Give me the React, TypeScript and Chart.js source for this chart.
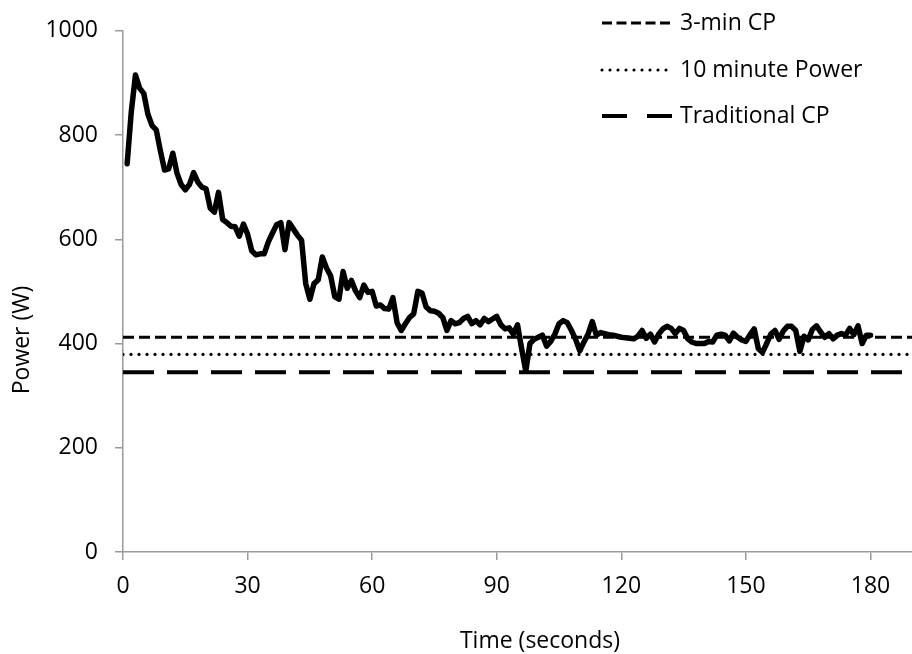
import React, { useEffect, useRef } from "react";
import { Chart, registerables } from "chart.js";

Chart.register(...registerables);

// Power (W) per second, t = 1..180 s
const powerWatts: number[] = [
  745, 845, 915, 890, 880, 840, 818, 810, 770, 733,
  735, 765, 727, 705, 695, 705, 728, 710, 700, 697,
  660, 652, 690, 638, 632, 625, 624, 606, 629, 610,
  578, 570, 572, 572, 595, 612, 628, 632, 580, 632,
  620, 608, 598, 515, 485, 515, 522, 566, 545, 530,
  490, 485, 538, 506, 521, 501, 488, 512, 498, 500,
  472, 474, 467, 466, 488, 440, 425, 438, 450, 457,
  500, 497, 470, 463, 462, 458, 450, 425, 444, 438,
  440, 448, 452, 438, 444, 436, 448, 442, 447, 452,
  436, 428, 430, 418, 436, 390, 347, 400, 408, 412,
  416, 395, 404, 418, 438, 444, 440, 425, 408, 386,
  403, 418, 442, 416, 421, 419, 417, 416, 414, 412,
  411, 410, 409, 414, 425, 410, 418, 403, 418, 428,
  433, 429, 419, 429, 425, 409, 403, 400, 400, 400,
  404, 403, 416, 418, 416, 405, 420, 412, 407, 404,
  417, 428, 390, 383, 400, 418, 425, 408, 424, 433,
  433, 425, 385, 414, 407, 427, 434, 422, 412, 419,
  409, 416, 419, 416, 429, 417, 434, 400, 416, 416,
];

const referenceLabels: string[] = ["3-min CP", "10 minute Power", "Traditional CP"];
const referenceValues: number[] = [412, 379, 345];

const xTickValues: number[] = [0, 30, 60, 90, 120, 150, 180];
const yTickValues: number[] = [0, 200, 400, 600, 800, 1000];

const xAxisMin = 0;
const xAxisMax = 190;

const FONT = "'Open Sans', sans-serif";
const AXIS_COLOR = "#9a9a9a";

const refStyles = [
  { dash: [11, 5], legendDash: [10, 4.5], width: 3, cap: "butt" as CanvasLineCap },
  { dash: [0, 8], legendDash: [0, 8], width: 3.2, cap: "round" as CanvasLineCap },
  { dash: [31, 13], legendDash: [25, 20], width: 4, cap: "butt" as CanvasLineCap },
];

const overlayPlugin = {
  id: "overlayTexts",
  afterDraw(chart: any) {
    const ctx: CanvasRenderingContext2D = chart.ctx;
    ctx.save();
    ctx.fillStyle = "#000";
    ctx.font = `23px ${FONT}`;
    // axis titles
    ctx.textAlign = "center";
    ctx.textBaseline = "middle";
    ctx.fillText("Time (seconds)", 540, 641);
    ctx.save();
    ctx.translate(22, 340);
    ctx.rotate(-Math.PI / 2);
    ctx.fillText("Power (W)", 0, 0);
    ctx.restore();
    // legend
    const rowsY = [23, 70, 116];
    referenceLabels.forEach((label, i) => {
      const st = refStyles[i];
      const y = rowsY[i];
      ctx.save();
      ctx.strokeStyle = "#000";
      ctx.lineWidth = st.width;
      ctx.lineCap = st.cap;
      ctx.setLineDash(st.legendDash);
      ctx.beginPath();
      ctx.moveTo(602, y);
      ctx.lineTo(672, y);
      ctx.stroke();
      ctx.restore();
      ctx.textAlign = "left";
      ctx.textBaseline = "middle";
      ctx.fillText(label, 680, y);
    });
    ctx.restore();
  },
};

export default function App() {
  const canvasRef = useRef<HTMLCanvasElement | null>(null);

  useEffect(() => {
    document.body.style.margin = "0";
    const canvas = canvasRef.current;
    if (!canvas) return;

    const mainData = powerWatts.map((v, i) => ({ x: i + 1, y: v }));
    const refDatasets = referenceValues.map((v, i) => ({
      label: referenceLabels[i],
      data: [
        { x: xAxisMin, y: v },
        { x: xAxisMax, y: v },
      ],
      borderColor: "#000",
      borderWidth: refStyles[i].width,
      borderDash: refStyles[i].dash,
      borderCapStyle: refStyles[i].cap,
      pointRadius: 0,
      fill: false,
    }));

    const chart = new Chart(canvas, {
      type: "line",
      data: {
        datasets: [
          {
            label: "Power",
            data: mainData,
            borderColor: "#000",
            borderWidth: 5.5,
            borderJoinStyle: "round",
            borderCapStyle: "round",
            pointRadius: 0,
            tension: 0,
            fill: false,
          },
          ...refDatasets,
        ] as any,
      },
      options: {
        responsive: false,
        animation: false,
        devicePixelRatio: 1,
        layout: { padding: { top: 25, right: 0, bottom: 0, left: 0 } },
        plugins: {
          legend: { display: false },
          tooltip: { enabled: false },
          title: { display: false },
        },
        scales: {
          x: {
            type: "linear",
            min: xAxisMin,
            max: xAxisMax,
            afterBuildTicks: (scale: any) => {
              scale.ticks = xTickValues.map((v) => ({ value: v }));
            },
            afterFit: (scale: any) => {
              scale.height = 102;
            },
            grid: {
              drawOnChartArea: false,
              drawTicks: true,
              tickLength: 8,
              color: AXIS_COLOR,
              lineWidth: 1.5,
            },
            border: { display: true, color: AXIS_COLOR, width: 1.5 },
            ticks: {
              padding: 13,
              color: "#000",
              font: { family: FONT, size: 23 },
              maxRotation: 0,
              callback: (v: any) => String(v),
            },
          },
          y: {
            type: "linear",
            min: 0,
            max: 1000,
            afterBuildTicks: (scale: any) => {
              scale.ticks = yTickValues.map((v) => ({ value: v }));
            },
            afterFit: (scale: any) => {
              scale.width = 123;
            },
            grid: {
              drawOnChartArea: false,
              drawTicks: true,
              tickLength: 8,
              color: AXIS_COLOR,
              lineWidth: 1.5,
            },
            border: { display: true, color: AXIS_COLOR, width: 1.5 },
            ticks: {
              padding: 17,
              color: "#000",
              font: { family: FONT, size: 23 },
              callback: (v: any) => String(v),
            },
          },
        },
      } as any,
      plugins: [overlayPlugin],
    });

    return () => {
      chart.destroy();
    };
  }, []);

  return (
    <div style={{ position: "fixed", left: 0, top: 0, width: 912, height: 654, background: "#fff" }}>
      <canvas ref={canvasRef} width={912} height={654} style={{ display: "block" }} />
    </div>
  );
}
